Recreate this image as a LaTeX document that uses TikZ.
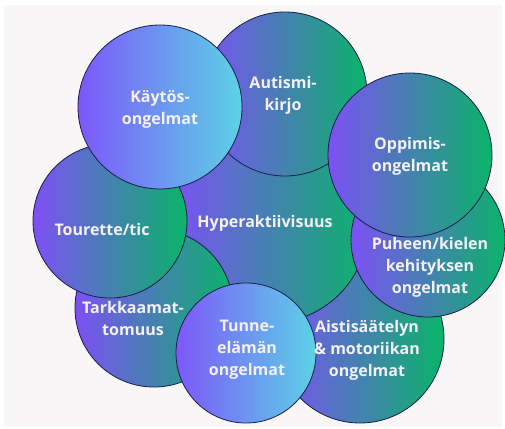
\documentclass[tikz,border=0pt]{standalone}
\usepackage{fontspec}
\setmainfont{Open Sans}
\definecolor{bgc}{RGB}{248,246,247}
\definecolor{pv}{RGB}{125,80,245}
\definecolor{gr}{RGB}{10,180,105}
\definecolor{pva}{RGB}{125,88,250}
\definecolor{cy}{RGB}{92,210,230}
\definecolor{edge}{RGB}{25,30,70}
\definecolor{txt}{RGB}{245,241,250}
\tikzset{
  bubble/.style={circle, draw=edge, line width=0.8pt, inner sep=0pt, shade, shading=axis, left color=pv, right color=gr},
  bubblelight/.style={bubble, left color=pva, right color=cy},
  lbl/.style={text=txt, font=\fontsize{16}{22}\selectfont\bfseries, align=center, inner sep=0pt}
}
\begin{document}
\begin{tikzpicture}[x=1pt,y=-1pt]
\useasboundingbox (0,0) rectangle (505,428);
\fill[white] (0,0) rectangle (505,428);
\fill[bgc] (4,5) rectangle (502,427);
% circles, back to front
\node[bubble, minimum size=168pt] (ais) at (360,339) {};
\node[bubble, minimum size=196pt] (hyp) at (270,225) {};
\node[bubble, minimum size=164pt] (aut) at (285,94) {};
\node[bubble, minimum size=158pt] (tar) at (154,308) {};
\node[bubble, minimum size=154pt] (tou) at (110,221) {};
\node[bubblelight, minimum size=164pt] (kay) at (160,107) {};
\node[bubble, minimum size=154pt] (puh) at (428,240) {};
\node[bubble, minimum size=164pt] (opp) at (410,155) {};
\node[bubblelight, minimum size=140pt] (tun) at (246,353) {};
% labels
\node[lbl] (kayT) at (160,109) {Käytös-\\ongelmat};
\node[lbl] (autT) at (283,95) {Autismi-\\kirjo};
\node[lbl] (oppT) at (410,156) {Oppimis-\\ongelmat};
\node[lbl] (hypT) at (265,223) {Hyperaktiivisuus};
\node[lbl] (touT) at (102,229) {Tourette/tic};
\node[lbl] (puhT) at (430,267) {Puheen/kielen\\kehityksen\\ongelmat};
\node[lbl] (tarT) at (133,318) {Tarkkaamat-\\tomuus};
\node[lbl] (tunT) at (247,350) {Tunne-\\elämän\\ongelmat};
\node[lbl] (aisT) at (367,350) {Aistisäätelyn\\\& motoriikan\\ongelmat};
\end{tikzpicture}
\end{document}
